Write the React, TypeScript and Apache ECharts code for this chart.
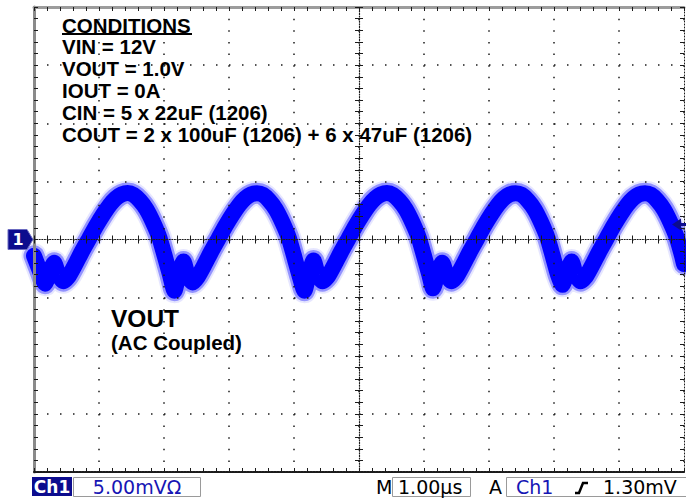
import React, { useEffect, useRef } from "react";
import * as echarts from "echarts";

// ---- Data (read from the scope capture) ----
// time in microseconds (1.00 µs/div, 10 divisions)
const timeUs = [
  0.0, 0.09,
  0.17, 0.24, 0.31, 0.38, 0.45, 0.53, 0.63, 0.74, 0.85, 0.96, 1.07, 1.17, 1.26, 1.35, 1.44, 1.53, 1.63, 1.73, 1.83, 1.93, 2.01, 2.09,
  2.16, 2.23, 2.3, 2.37, 2.44, 2.52, 2.62, 2.73, 2.84, 2.95, 3.06, 3.16, 3.25, 3.34, 3.43, 3.52, 3.62, 3.72, 3.82, 3.92, 4.0, 4.08,
  4.16, 4.23, 4.3, 4.37, 4.44, 4.52, 4.62, 4.73, 4.84, 4.95, 5.06, 5.16, 5.25, 5.34, 5.43, 5.52, 5.62, 5.72, 5.82, 5.92, 6.0, 6.08,
  6.14, 6.21, 6.28, 6.35, 6.42, 6.5, 6.6, 6.71, 6.82, 6.93, 7.04, 7.14, 7.23, 7.32, 7.41, 7.5, 7.6, 7.7, 7.8, 7.9, 7.98, 8.06,
  8.13, 8.2, 8.27, 8.34, 8.41, 8.49, 8.59, 8.7, 8.81, 8.92, 9.03, 9.13, 9.22, 9.31, 9.4, 9.49, 9.59, 9.69, 9.79, 9.89, 9.97, 10.0,
];
// VOUT ripple in millivolts (5.00 mV/div, AC coupled)
const voutMv = [
  -1.4, -2.7,
  -3.8, -2.8, -2.0, -3.1, -3.6, -3.2, -2.2, -1.0, 0.1, 1.2, 2.2, 3.0, 3.55, 3.88, 4.0, 3.85, 3.35, 2.6, 1.5, 0.15, -1.4, -3.0,
  -4.4, -2.9, -1.9, -3.2, -3.7, -3.2, -2.2, -1.0, 0.1, 1.2, 2.2, 3.0, 3.55, 3.88, 3.98, 3.85, 3.35, 2.6, 1.5, 0.15, -1.4, -3.0,
  -4.4, -2.9, -1.8, -3.1, -3.6, -3.2, -2.2, -1.0, 0.1, 1.2, 2.2, 3.0, 3.55, 3.88, 4.0, 3.85, 3.35, 2.6, 1.5, 0.15, -1.4, -3.0,
  -4.2, -2.9, -2.0, -3.1, -3.6, -3.2, -2.2, -1.0, 0.1, 1.2, 2.2, 3.0, 3.55, 3.88, 3.98, 3.85, 3.35, 2.6, 1.5, 0.15, -1.4, -3.0,
  -3.9, -2.8, -1.9, -3.1, -3.6, -3.2, -2.2, -1.0, 0.1, 1.2, 2.2, 3.0, 3.55, 3.88, 3.98, 3.85, 3.35, 2.6, 1.5, 0.15, -1.4, -2.1,
];

const xScale = { min: 0, max: 10, interval: 1, minorSplits: 5 };
const yScale = { min: -20, max: 20, interval: 5, minorSplits: 5 };

const conditionsTitle = "CONDITIONS";
const conditionLines = [
  "VIN = 12V",
  "VOUT = 1.0V",
  "IOUT = 0A",
  "CIN = 5 x 22uF (1206)",
  "COUT = 2 x 100uF (1206) + 6 x 47uF (1206)",
];
const traceLabel = "VOUT";
const traceNote = "(AC Coupled)";
const channelName = "Ch1";
const channelMarker = "1";
const verticalScale = "5.00mVΩ";
const timebaseKey = "M";
const timebase = "1.00µs";
const triggerKey = "A";
const triggerSource = "Ch1";
const triggerLevelText = "1.30mV";
const triggerLevelMv = 1.3;

// ---- Layout ----
const W = 686;
const H = 502;
const GL = 34;
const GT = 7;
const GW = 650;
const GH = 465;
const DARK = "#1b1b1b";
const NAVY = "#0c0c8e";
const BLUE_TXT = "#1616b4";
const SANS = "'Liberation Sans', Arial, sans-serif";
const SCOPE = "'DejaVu Sans', Verdana, sans-serif";

function xBase(extra: any) {
  return {
    type: "value",
    min: xScale.min,
    max: xScale.max,
    interval: xScale.interval,
    z: 3,
    axisLabel: { show: false },
    splitLine: { show: false },
    axisTick: { show: false },
    minorTick: { show: false },
    axisLine: { show: false, onZero: false },
    ...extra,
  };
}
function yBase(extra: any) {
  return {
    type: "value",
    min: yScale.min,
    max: yScale.max,
    interval: yScale.interval,
    z: 3,
    axisLabel: { show: false },
    splitLine: { show: false },
    axisTick: { show: false },
    minorTick: { show: false },
    axisLine: { show: false, onZero: false },
    ...extra,
  };
}

const tick = (inside: boolean, length = 4) => ({
  show: true,
  inside,
  length,
  lineStyle: { color: DARK, width: 1 },
});
const minor = (splits: number, length = 4) => ({
  show: true,
  splitNumber: splits,
  length,
  lineStyle: { color: DARK, width: 1 },
});

export default function App() {
  const ref = useRef<HTMLDivElement>(null);
  useEffect(() => {
    if (!ref.current) return;
    const chart = echarts.init(ref.current, undefined, { renderer: "svg" });
    const points = timeUs.map((t, i) => [t, voutMv[i]]);
    const centerYOffset = -GH / 2;
    const centerXOffset = -GW / 2;
    const trigY = GT + ((yScale.max - triggerLevelMv) / (yScale.max - yScale.min)) * GH;
    const zeroY = GT + ((yScale.max - 0) / (yScale.max - yScale.min)) * GH;
    const xs = xScale.minorSplits;
    const ys = yScale.minorSplits;
    const lineCommon = {
      type: "line",
      data: points,
      showSymbol: false,
      symbol: "none",
      smooth: 0.2,
      silent: true,
      z: 2,
      xAxisIndex: 0,
      yAxisIndex: 0,
    };
    chart.setOption({
      animation: false,
      backgroundColor: "#ffffff",
      grid: { left: GL, top: GT, width: GW, height: GH, show: false },
      xAxis: [
        xBase({
          position: "bottom",
          axisLine: { show: true, onZero: false, lineStyle: { color: DARK, width: 2, type: [2, 1] } },
          axisTick: tick(true),
          minorTick: minor(xs, 4),
          splitLine: { show: true, lineStyle: { color: DARK, width: 1.5, type: [1.5, 10.125] } },
        }),
        xBase({
          position: "top",
          axisLine: { show: true, onZero: false, lineStyle: { color: "#9c9c9c", width: 3 } },
          axisTick: tick(true),
          minorTick: minor(xs, 4),
        }),
        xBase({
          position: "bottom",
          offset: centerYOffset,
          axisLine: { show: true, onZero: false, lineStyle: { color: DARK, width: 1.2, type: [1, 1.6] } },
          axisTick: tick(true, 4),
          minorTick: minor(xs, 4),
        }),
        xBase({
          position: "bottom",
          offset: centerYOffset,
          axisTick: tick(false, 4),
          minorTick: minor(xs, 4),
        }),
      ],
      yAxis: [
        yBase({
          position: "left",
          axisLine: { show: true, onZero: false, lineStyle: { color: "#8a8a8a", width: 3 } },
          axisTick: tick(true),
          minorTick: minor(ys, 4),
          splitLine: { show: true, lineStyle: { color: DARK, width: 1.5, type: [1.5, 11.5] } },
        }),
        yBase({
          position: "right",
          axisLine: { show: true, onZero: false, lineStyle: { color: DARK, width: 1, type: [1, 2] } },
          axisTick: tick(true),
          minorTick: minor(ys, 4),
        }),
        yBase({
          position: "left",
          offset: centerXOffset,
          axisLine: { show: true, onZero: false, lineStyle: { color: DARK, width: 1.2, type: [1, 1.6] } },
          axisTick: tick(true, 4),
          minorTick: minor(ys, 4),
        }),
        yBase({
          position: "left",
          offset: centerXOffset,
          axisTick: tick(false, 4),
          minorTick: minor(ys, 4),
        }),
      ],
      series: [
        {
          ...lineCommon,
          name: "VOUT halo",
          lineStyle: { color: "rgba(60,60,255,0.13)", width: 25, join: "round", cap: "round" },
        },
        {
          ...lineCommon,
          name: "VOUT fuzz",
          lineStyle: { color: "rgba(20,20,255,0.4)", width: 21, join: "round", cap: "round" },
        },
        {
          ...lineCommon,
          name: "VOUT",
          lineStyle: { color: "#0000ff", width: 16, join: "round", cap: "round" },
        },
      ],
      graphic: [
        // conditions block
        {
          type: "text",
          x: 62,
          y: 25,
          z: 10,
          style: {
            text: conditionsTitle,
            font: `bold 20.5px ${SANS}`,
            fill: "#000",
            verticalAlign: "middle",
          },
        },
        {
          type: "rect",
          z: 10,
          shape: { x: 62, y: 33, width: 130, height: 2 },
          style: { fill: "#000" },
        },
        ...conditionLines.map((t, i) => ({
          type: "text",
          x: 62,
          y: 46.5 + i * 21.9,
          z: 10,
          style: { text: t, font: `bold 20.5px ${SANS}`, fill: "#000", verticalAlign: "middle" },
        })),
        // trace label
        {
          type: "text",
          x: 111,
          y: 318,
          z: 10,
          style: { text: traceLabel, font: `bold 24.5px ${SANS}`, fill: "#000", verticalAlign: "middle" },
        },
        {
          type: "text",
          x: 111,
          y: 342,
          z: 10,
          style: { text: traceNote, font: `bold 20.5px ${SANS}`, fill: "#000", verticalAlign: "middle" },
        },
        // channel 1 ground marker
        {
          type: "polygon",
          z: 10,
          shape: {
            points: [
              [8, zeroY - 10],
              [27, zeroY - 10],
              [33, zeroY],
              [27, zeroY + 10],
              [8, zeroY + 10],
            ],
          },
          style: { fill: NAVY, stroke: "#6b6bc0", lineWidth: 1 },
        },
        {
          type: "text",
          x: 18,
          y: zeroY,
          z: 11,
          style: {
            text: channelMarker,
            font: `bold 16px ${SCOPE}`,
            fill: "#fff",
            align: "center",
            verticalAlign: "middle",
          },
        },
        // trigger level marker
        {
          type: "polygon",
          z: 10,
          shape: {
            points: [
              [672, trigY],
              [681, trigY - 6],
              [681, trigY - 1.5],
              [686, trigY - 1.5],
              [686, trigY + 1.5],
              [681, trigY + 1.5],
              [681, trigY + 6],
            ],
          },
          style: { fill: NAVY },
        },
        // status bar
        {
          type: "rect",
          z: 10,
          shape: { x: 32, y: 477, width: 40, height: 19 },
          style: { fill: NAVY },
        },
        {
          type: "text",
          x: 52,
          y: 487,
          z: 11,
          style: {
            text: channelName,
            font: `bold 17px ${SCOPE}`,
            fill: "#fff",
            align: "center",
            verticalAlign: "middle",
          },
        },
        {
          type: "rect",
          z: 10,
          shape: { x: 73.5, y: 477.5, width: 127, height: 19 },
          style: { fill: "#fff", stroke: "#9a9a9a", lineWidth: 1 },
        },
        {
          type: "text",
          x: 137,
          y: 487,
          z: 11,
          style: {
            text: verticalScale,
            font: `19px ${SCOPE}`,
            fill: BLUE_TXT,
            align: "center",
            verticalAlign: "middle",
          },
        },
        {
          type: "text",
          x: 376,
          y: 487,
          z: 11,
          style: { text: timebaseKey, font: `19px ${SCOPE}`, fill: "#000", verticalAlign: "middle" },
        },
        {
          type: "rect",
          z: 10,
          shape: { x: 392.5, y: 477.5, width: 78, height: 19 },
          style: { fill: "#fff", stroke: "#9a9a9a", lineWidth: 1 },
        },
        {
          type: "text",
          x: 398,
          y: 487,
          z: 11,
          style: { text: timebase, font: `19px ${SCOPE}`, fill: "#000", verticalAlign: "middle" },
        },
        {
          type: "text",
          x: 489,
          y: 487,
          z: 11,
          style: { text: triggerKey, font: `19px ${SCOPE}`, fill: "#000", verticalAlign: "middle" },
        },
        {
          type: "rect",
          z: 10,
          shape: { x: 506.5, y: 477.5, width: 200, height: 19 },
          style: { fill: "#fff", stroke: "#9a9a9a", lineWidth: 1 },
        },
        {
          type: "text",
          x: 516,
          y: 487,
          z: 11,
          style: { text: triggerSource, font: `19px ${SCOPE}`, fill: BLUE_TXT, verticalAlign: "middle" },
        },
        {
          type: "polyline",
          z: 11,
          shape: {
            points: [
              [575, 493],
              [579, 493],
              [583, 483],
              [588, 483],
            ],
          },
          style: { stroke: "#000", lineWidth: 2.5, fill: null },
        },
        {
          type: "text",
          x: 603,
          y: 487,
          z: 11,
          style: { text: triggerLevelText, font: `19px ${SCOPE}`, fill: "#000", verticalAlign: "middle" },
        },
      ],
    });
    return () => chart.dispose();
  }, []);
  return (
    <div
      ref={ref}
      style={{ position: "fixed", left: 0, top: 0, width: W, height: H, background: "#fff" }}
    />
  );
}
